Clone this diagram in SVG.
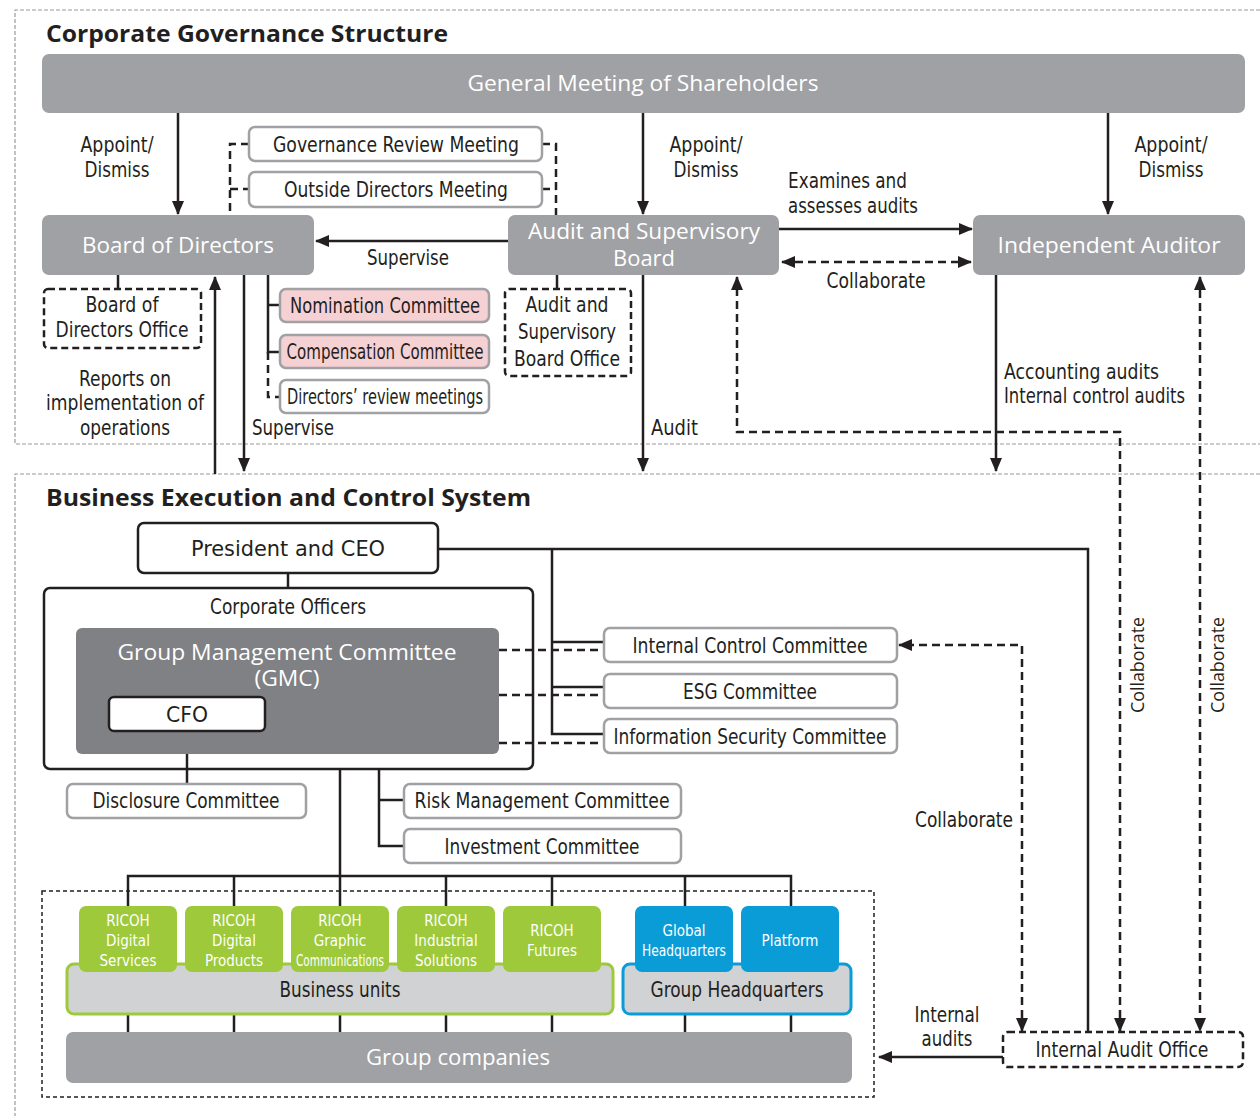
<svg xmlns="http://www.w3.org/2000/svg" width="1260" height="1116" viewBox="0 0 1260 1116">
<style>
.sec{fill:none;stroke:#9a9a9a;stroke-width:1.2;stroke-dasharray:4 2}
.ttl{font-family:"Open Sans","Noto Sans",sans-serif;font-weight:bold;font-size:24px;fill:#231f20}
.gbox{fill:#a0a1a4}
.wt{font-family:"Open Sans","Noto Sans",sans-serif;font-size:21px;fill:#fff;text-anchor:middle}
.lb{font-family:"Liberation Sans Narrow","DejaVu Sans Condensed","Roboto Condensed",sans-serif;font-size:21px;fill:#231f20}
.c{text-anchor:middle}
.cbox{fill:#fff;stroke:#a0a1a4;stroke-width:2.5}
.pink{fill:#f6d1d4;stroke:#a0a1a4;stroke-width:2.5}
.bbox{fill:#fff;stroke:#231f20;stroke-width:2.5}
.dbox{fill:none;stroke:#231f20;stroke-width:2.5;stroke-dasharray:7 4}
.ln{fill:none;stroke:#231f20;stroke-width:2.5}
.dl{fill:none;stroke:#231f20;stroke-width:2.5;stroke-dasharray:8 5}
.green{fill:#9dc93b}
.blue{fill:#0a9cd7}
.st{font-family:"Liberation Sans Narrow","DejaVu Sans Condensed",sans-serif;font-size:15px;fill:#fff;text-anchor:middle}
.rot{font-family:"Open Sans","Noto Sans",sans-serif;font-size:18px;fill:#231f20;text-anchor:middle}
</style>
<defs>
<marker id="arr" markerUnits="userSpaceOnUse" markerWidth="14" markerHeight="12" refX="13" refY="6" orient="auto-start-reverse">
<path d="M0,0 L14,6 L0,12 z" fill="#231f20"/>
</marker>
</defs>

<!-- section frames -->
<g id="sections">
<path class="sec" d="M1260,10 H15 V444 H1260"/>
<path class="sec" d="M1260,474 H15 V1116"/>
<text class="ttl" x="46" y="42" textLength="402" lengthAdjust="spacingAndGlyphs">Corporate Governance Structure</text>
<text class="ttl" x="46" y="506" textLength="485" lengthAdjust="spacingAndGlyphs">Business Execution and Control System</text>
</g>

<!-- connectors -->
<g id="connectors">
<line class="ln" x1="178" y1="113" x2="178" y2="214" marker-end="url(#arr)"/>
<line class="ln" x1="643" y1="113" x2="643" y2="214" marker-end="url(#arr)"/>
<line class="ln" x1="1108" y1="113" x2="1108" y2="214" marker-end="url(#arr)"/>
<path class="dl" d="M249,144 H230 V215"/>
<line class="dl" x1="230" y1="189" x2="249" y2="189"/>
<path class="dl" d="M542,144 H556 V215"/>
<line class="dl" x1="542" y1="189" x2="556" y2="189"/>
<line class="ln" x1="508" y1="241" x2="316" y2="241" marker-end="url(#arr)"/>
<line class="ln" x1="779" y1="229" x2="972" y2="229" marker-end="url(#arr)"/>
<line class="dl" x1="782" y1="262" x2="971" y2="262" marker-start="url(#arr)" marker-end="url(#arr)"/>
<line class="ln" x1="118" y1="275" x2="118" y2="289"/>
<line class="ln" x1="557" y1="275" x2="557" y2="289"/>
<path class="ln" d="M268,275 V352 H280 M268,305 H280"/>
<path class="dl" d="M268,352 V397 H280"/>
<line class="ln" x1="215" y1="474" x2="215" y2="277" marker-end="url(#arr)"/>
<line class="ln" x1="244" y1="275" x2="244" y2="471" marker-end="url(#arr)"/>
<line class="ln" x1="643" y1="275" x2="643" y2="471" marker-end="url(#arr)"/>
<line class="ln" x1="996" y1="275" x2="996" y2="471" marker-end="url(#arr)"/>
<path class="dl" d="M1120,1031 V432 H737 V277" marker-start="url(#arr)" marker-end="url(#arr)"/>
<line class="dl" x1="1200" y1="277" x2="1200" y2="1031" marker-start="url(#arr)" marker-end="url(#arr)"/>
<path class="dl" d="M1022,1031 V645 H899" marker-start="url(#arr)" marker-end="url(#arr)"/>
<path class="ln" d="M438,549 H1088 V1032"/>
<path class="ln" d="M552,549 V734 H604 M552,642 H604 M552,687 H604"/>
<path class="dl" d="M499,650 H604 M499,695 H604 M499,743 H604"/>
<line class="ln" x1="288" y1="573" x2="288" y2="588"/>
<line class="ln" x1="187" y1="731" x2="187" y2="784"/>
<path class="ln" d="M379,769 V846 H404 M379,800 H404"/>
<line class="ln" x1="340" y1="769" x2="340" y2="876"/>
<path class="ln" d="M128,906 V876 H791 V906 M234,876 V906 M340,876 V906 M446,876 V906 M552,876 V906 M685,876 V906"/>
<path class="ln" d="M128,1014 V1032 M234,1014 V1032 M340,1014 V1032 M446,1014 V1032 M552,1014 V1032 M685,1014 V1032 M791,1014 V1032"/>
<line class="ln" x1="1003" y1="1057" x2="879" y2="1057" marker-end="url(#arr)"/>
<text class="lb c" x="117" y="152" textLength="73" lengthAdjust="spacingAndGlyphs">Appoint/</text>
<text class="lb c" x="117" y="177" textLength="65" lengthAdjust="spacingAndGlyphs">Dismiss</text>
<text class="lb c" x="706" y="152" textLength="73" lengthAdjust="spacingAndGlyphs">Appoint/</text>
<text class="lb c" x="706" y="177" textLength="65" lengthAdjust="spacingAndGlyphs">Dismiss</text>
<text class="lb c" x="1171" y="152" textLength="73" lengthAdjust="spacingAndGlyphs">Appoint/</text>
<text class="lb c" x="1171" y="177" textLength="65" lengthAdjust="spacingAndGlyphs">Dismiss</text>
<text class="lb c" x="408" y="265" textLength="82" lengthAdjust="spacingAndGlyphs">Supervise</text>
<text class="lb" x="788" y="188" textLength="119" lengthAdjust="spacingAndGlyphs">Examines and</text>
<text class="lb" x="788" y="213" textLength="130" lengthAdjust="spacingAndGlyphs">assesses audits</text>
<text class="lb c" x="876" y="288" textLength="99" lengthAdjust="spacingAndGlyphs">Collaborate</text>
<text class="lb c" x="125" y="386" textLength="92" lengthAdjust="spacingAndGlyphs">Reports on</text>
<text class="lb c" x="125" y="410" textLength="158" lengthAdjust="spacingAndGlyphs">implementation of</text>
<text class="lb c" x="125" y="435" textLength="90" lengthAdjust="spacingAndGlyphs">operations</text>
<text class="lb" x="252" y="435" textLength="82" lengthAdjust="spacingAndGlyphs">Supervise</text>
<text class="lb" x="651" y="435" textLength="47" lengthAdjust="spacingAndGlyphs">Audit</text>
<text class="lb" x="1004" y="379" textLength="155" lengthAdjust="spacingAndGlyphs">Accounting audits</text>
<text class="lb" x="1004" y="403" textLength="181" lengthAdjust="spacingAndGlyphs">Internal control audits</text>
<text class="lb c" x="964" y="827" textLength="98" lengthAdjust="spacingAndGlyphs">Collaborate</text>
<text class="rot" transform="translate(1144,665) rotate(-90)" textLength="96" lengthAdjust="spacingAndGlyphs">Collaborate</text>
<text class="rot" transform="translate(1224,665) rotate(-90)" textLength="96" lengthAdjust="spacingAndGlyphs">Collaborate</text>
<text class="lb c" x="947" y="1022" textLength="65" lengthAdjust="spacingAndGlyphs">Internal</text>
<text class="lb c" x="947" y="1046" textLength="51" lengthAdjust="spacingAndGlyphs">audits</text>
</g>

<!-- governance nodes -->
<g id="gms"><rect class="gbox" x="42" y="54" width="1203" height="59" rx="7"/><text class="wt" x="643" y="91" textLength="351" lengthAdjust="spacingAndGlyphs">General Meeting of Shareholders</text></g>
<g id="board"><rect class="gbox" x="42" y="215" width="272" height="60" rx="7"/><text class="wt" x="178" y="253" textLength="192" lengthAdjust="spacingAndGlyphs">Board of Directors</text></g>
<g id="asb"><rect class="gbox" x="508" y="215" width="271" height="60" rx="7"/><text class="wt" x="644" y="239" font-size="19.5" textLength="232" lengthAdjust="spacingAndGlyphs">Audit and Supervisory</text><text class="wt" x="644" y="266" font-size="19.5" textLength="62" lengthAdjust="spacingAndGlyphs">Board</text></g>
<g id="auditor"><rect class="gbox" x="973" y="215" width="272" height="60" rx="7"/><text class="wt" x="1109" y="253" textLength="223" lengthAdjust="spacingAndGlyphs">Independent Auditor</text></g>
<g id="grm"><rect class="cbox" x="249" y="127" width="293" height="34" rx="6"/><text class="lb c" x="396" y="152" textLength="246" lengthAdjust="spacingAndGlyphs">Governance Review Meeting</text></g>
<g id="odm"><rect class="cbox" x="249" y="172" width="293" height="35" rx="6"/><text class="lb c" x="396" y="197" textLength="224" lengthAdjust="spacingAndGlyphs">Outside Directors Meeting</text></g>
<g id="bdo"><rect class="dbox" x="44" y="289" width="157" height="59" rx="4"/><text class="lb c" x="122" y="312" textLength="73" lengthAdjust="spacingAndGlyphs">Board of</text><text class="lb c" x="122" y="337" textLength="133" lengthAdjust="spacingAndGlyphs">Directors Office</text></g>
<g id="nom"><rect class="pink" x="280" y="289" width="209" height="33" rx="6"/><text class="lb c" x="385" y="313" textLength="190" lengthAdjust="spacingAndGlyphs">Nomination Committee</text></g>
<g id="comp"><rect class="pink" x="280" y="335" width="209" height="33" rx="6"/><text class="lb c" x="385" y="359" textLength="197" lengthAdjust="spacingAndGlyphs">Compensation Committee</text></g>
<g id="drm"><rect class="cbox" x="280" y="380" width="209" height="33" rx="6"/><text class="lb c" x="385" y="404" font-size="19" textLength="196" lengthAdjust="spacingAndGlyphs">Directors’ review meetings</text></g>
<g id="asbo"><rect class="dbox" x="505" y="289" width="126" height="87" rx="4"/><text class="lb c" x="567" y="312" font-size="19" textLength="83" lengthAdjust="spacingAndGlyphs">Audit and</text><text class="lb c" x="567" y="339" font-size="19" textLength="98" lengthAdjust="spacingAndGlyphs">Supervisory</text><text class="lb c" x="567" y="366" font-size="19" textLength="106" lengthAdjust="spacingAndGlyphs">Board Office</text></g>

<!-- execution nodes -->
<g id="ceo"><rect class="bbox" x="138" y="523" width="300" height="50" rx="6"/><text class="lb c" x="288" y="556" font-size="22" textLength="194" lengthAdjust="spacingAndGlyphs">President and CEO</text></g>
<g id="officers"><rect x="44" y="588" width="489" height="181" rx="6" fill="none" stroke="#231f20" stroke-width="2.5"/><text class="lb c" x="288" y="614" textLength="156" lengthAdjust="spacingAndGlyphs">Corporate Officers</text>
<rect x="76" y="628" width="423" height="126" rx="6" fill="#808184"/>
<text class="wt" x="287" y="660" font-size="20" textLength="339" lengthAdjust="spacingAndGlyphs">Group Management Committee</text>
<text class="wt" x="287" y="686" font-size="20" textLength="65" lengthAdjust="spacingAndGlyphs">(GMC)</text>
</g>
<g id="cfo"><rect class="bbox" x="109" y="697" width="156" height="34" rx="5"/><text class="lb c" x="187" y="722" font-size="22" textLength="42" lengthAdjust="spacingAndGlyphs">CFO</text></g>
<g id="disclosure"><rect class="cbox" x="67" y="784" width="239" height="34" rx="6"/><text class="lb c" x="186" y="808" textLength="187" lengthAdjust="spacingAndGlyphs">Disclosure Committee</text></g>
<g id="icc"><rect class="cbox" x="604" y="628" width="293" height="34" rx="6"/><text class="lb c" x="750" y="653" textLength="235" lengthAdjust="spacingAndGlyphs">Internal Control Committee</text></g>
<g id="esg"><rect class="cbox" x="604" y="674" width="293" height="34" rx="6"/><text class="lb c" x="750" y="699" textLength="134" lengthAdjust="spacingAndGlyphs">ESG Committee</text></g>
<g id="isc"><rect class="cbox" x="604" y="719" width="293" height="34" rx="6"/><text class="lb c" x="750" y="744" textLength="273" lengthAdjust="spacingAndGlyphs">Information Security Committee</text></g>
<g id="risk"><rect class="cbox" x="404" y="784" width="277" height="34" rx="6"/><text class="lb c" x="542" y="808" textLength="255" lengthAdjust="spacingAndGlyphs">Risk Management Committee</text></g>
<g id="invest"><rect class="cbox" x="404" y="829" width="277" height="34" rx="6"/><text class="lb c" x="542" y="854" textLength="195" lengthAdjust="spacingAndGlyphs">Investment Committee</text></g>

<g id="group-frame"><rect x="42" y="891" width="832" height="206" fill="none" stroke="#231f20" stroke-width="1.5" stroke-dasharray="4 3"/></g>

<g id="business-units"><rect x="67" y="964" width="546" height="50" rx="7" fill="#d1d2d4" stroke="#9dc93b" stroke-width="3"/><text class="lb c" x="340" y="997" textLength="121" lengthAdjust="spacingAndGlyphs">Business units</text></g>
<g id="group-hq"><rect x="623" y="964" width="228" height="50" rx="7" fill="#d1d2d4" stroke="#0a9cd7" stroke-width="3"/><text class="lb c" x="737" y="997" textLength="173" lengthAdjust="spacingAndGlyphs">Group Headquarters</text></g>

<g id="bu-ds"><rect class="green" x="79" y="906" width="98" height="66" rx="7"/><text class="st" x="128" y="926">RICOH</text><text class="st" x="128" y="946">Digital</text><text class="st" x="128" y="966">Services</text></g>
<g id="bu-dp"><rect class="green" x="185" y="906" width="98" height="66" rx="7"/><text class="st" x="234" y="926">RICOH</text><text class="st" x="234" y="946">Digital</text><text class="st" x="234" y="966">Products</text></g>
<g id="bu-gc"><rect class="green" x="291" y="906" width="98" height="66" rx="7"/><text class="st" x="340" y="926">RICOH</text><text class="st" x="340" y="946">Graphic</text><text class="st" x="340" y="966" textLength="88" lengthAdjust="spacingAndGlyphs">Communications</text></g>
<g id="bu-is"><rect class="green" x="397" y="906" width="98" height="66" rx="7"/><text class="st" x="446" y="926">RICOH</text><text class="st" x="446" y="946">Industrial</text><text class="st" x="446" y="966">Solutions</text></g>
<g id="bu-fu"><rect class="green" x="503" y="906" width="98" height="66" rx="7"/><text class="st" x="552" y="936">RICOH</text><text class="st" x="552" y="956">Futures</text></g>
<g id="hq-global"><rect class="blue" x="635" y="906" width="98" height="66" rx="7"/><text class="st" x="684" y="936">Global</text><text class="st" x="684" y="956" textLength="84" lengthAdjust="spacingAndGlyphs">Headquarters</text></g>
<g id="hq-platform"><rect class="blue" x="741" y="906" width="98" height="66" rx="7"/><text class="st" x="790" y="946">Platform</text></g>

<g id="group-companies"><rect class="gbox" x="66" y="1032" width="786" height="51" rx="7"/><text class="wt" x="458" y="1065" textLength="184" lengthAdjust="spacingAndGlyphs">Group companies</text></g>
<g id="iao"><rect class="dbox" x="1003" y="1032" width="240" height="35" rx="5" fill="#fff"/><text class="lb c" x="1122" y="1057" textLength="173" lengthAdjust="spacingAndGlyphs">Internal Audit Office</text></g>
</svg>
